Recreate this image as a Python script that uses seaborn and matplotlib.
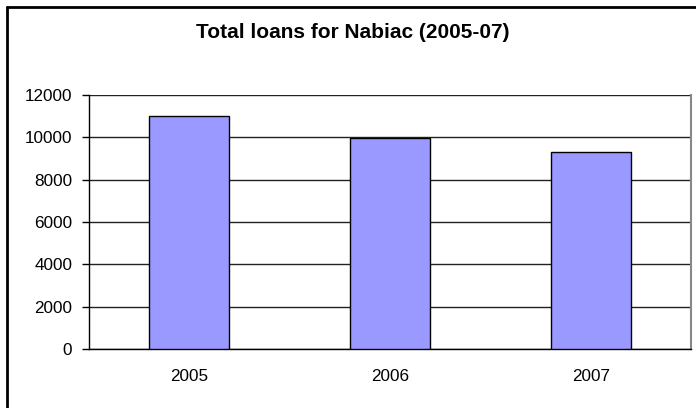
import matplotlib
matplotlib.use("Agg")
import matplotlib.pyplot as plt
from matplotlib.lines import Line2D
import seaborn as sns
import pandas as pd

years = ["2005", "2006", "2007"]
loans = [10980, 9950, 9280]
y_ticks = [0, 2000, 4000, 6000, 8000, 10000, 12000]

sns.set_style("white")
plt.rcParams["font.family"] = ["Liberation Sans", "DejaVu Sans"]
plt.rcParams["text.color"] = "black"
plt.rcParams["xtick.color"] = "black"
plt.rcParams["ytick.color"] = "black"

W, H = 696, 408
fig = plt.figure(figsize=(W / 100, H / 100), dpi=100)
ax = fig.add_axes([89 / W, 1 - 349.3 / H, (691 - 89) / W, (349.3 - 94.7) / H])

df = pd.DataFrame({"year": years, "loans": loans})
sns.barplot(data=df, x="year", y="loans", color="#9999FF", saturation=1,
            width=0.4, edgecolor="black", linewidth=1, ax=ax, zorder=3)

ax.set_ylim(0, 12000)
ax.set_xlim(-0.5, 2.5)
ax.set_yticks(y_ticks)
ax.set_yticklabels([str(v) for v in y_ticks], fontsize=12.3)
ax.yaxis.grid(True, color="#222222", linewidth=1)
ax.set_axisbelow(True)
ax.set_xlabel("")
ax.set_ylabel("")

# category boundaries carry the x ticks; labels sit centred without ticks
ax.set_xticks([0, 1, 2])
ax.set_xticklabels(years, fontsize=12.3)
ax.set_xticks([-0.5, 0.5, 1.5, 2.5], minor=True)
ax.tick_params(axis="x", which="major", length=0, pad=14)
ax.tick_params(axis="x", which="minor", length=5, width=1, color="black", direction="out")
ax.tick_params(axis="y", length=5, width=1, color="black", direction="out", pad=7, left=True)

for side in ["left", "bottom"]:
    ax.spines[side].set_color("black")
    ax.spines[side].set_linewidth(1)
ax.spines["top"].set_visible(False)
ax.spines["right"].set_color("#888888")
ax.spines["right"].set_linewidth(1.5)

fig.text(353 / W, 1 - 32 / H, "Total loans for Nabiac (2005-07)",
         ha="center", va="center", fontsize=15, fontweight="bold", color="black")

# chart frame
fx, fy = 6.5 / W, 1 - 6.5 / H
fig.add_artist(Line2D([fx, 1.0], [fy, fy], transform=fig.transFigure, color="black", linewidth=2))
fig.add_artist(Line2D([fx, fx], [0, fy], transform=fig.transFigure, color="black", linewidth=2))

fig.savefig("out.png", dpi=100)
